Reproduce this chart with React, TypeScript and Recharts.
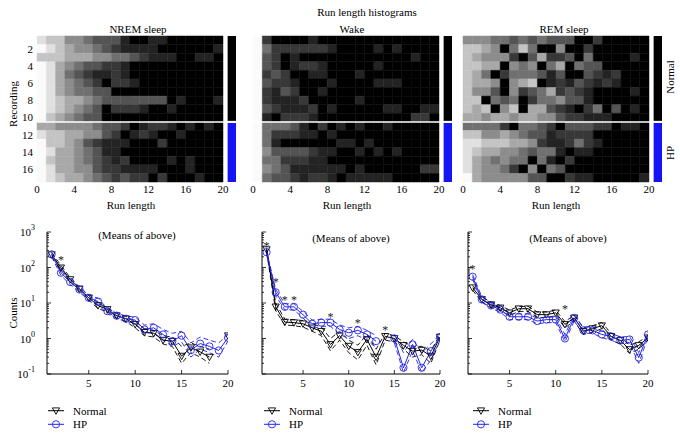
import React from 'react';
import {
  ScatterChart, Scatter, LineChart, Line, XAxis, YAxis,
  ReferenceArea, ReferenceLine, ReferenceDot,
} from 'recharts';

const FONT = '"Liberation Serif", "DejaVu Serif", serif';

// heatmap rows, one char per run length 1..20 (0 = black ... 9 = white)
const nremRows = [
  '87755433310011000000',
  '98765543211110000001',
  '77766655443211100110',
  '98654332210000000000',
  '98643211210000000000',
  '98654320221000000000',
  '98654433000000000000',
  '98766543333333010001',
  '98765430222100100000',
  '97654330000000000000',
  '66555543320122101010',
  '87766553201210010000',
  '97765321110002000000',
  '98665431100000000000',
  '97665432120000101000',
  '98665532211110001000',
  '98766543232202000100',
];

const wakeRows = [
  '92000010000000000000',
  '94222222100001010000',
  '93201000000000000100',
  '93201221000001000000',
  '92320011000100000000',
  '93221000100001110000',
  '92132001000000000000',
  '92111200000100000000',
  '93211120100000110011',
  '91022210000000000220',
  '94443102010100100000',
  '94222110100000000000',
  '94100000011010000000',
  '95333321100101010000',
  '94422211000000000000',
  '95431111110100000022',
  '94332122101111100000',
];

const remRows = [
  '55544343433300200000',
  '77650474005002000000',
  '76555203622304000010',
  '77660545046043300000',
  '76402444313003212000',
  '76650567012132121000',
  '75530523462321000010',
  '77043402445331000000',
  '76705706632102403010',
  '66566566553221110000',
  '44442044320333220110',
  '77556543312222000000',
  '88777665211242100000',
  '87665543441011000000',
  '86545440410200000000',
  '86554205043000000000',
  '96555553300211000001',
];

const greyLevels = ['#000000', '#232323', '#383838', '#545454', '#707070', '#8c8c8c', '#a8a8a8', '#c4c4c4', '#e0e0e0', '#fafafa'];

const recordingTicks = [2, 4, 6, 8, 10, 12, 14, 16];
const runTicks = [0, 4, 8, 12, 16, 20];
const normalRecordings = 10;

const runLengths = [1, 2, 3, 4, 5, 6, 7, 8, 9, 10, 11, 12, 13, 14, 15, 16, 17, 18, 19, 20];
const countTicksX = [5, 10, 15, 20];
const decades = [0.1, 1, 10, 100, 1000];
const minorSteps = [2, 3, 4, 5, 6, 7, 8, 9];

// NREM means
const nremNormal = [230, 98, 46, 25, 14, 8.5, 6.6, 4.4, 3.6, 2.5, 1.5, 1.4, 0.9, 0.84, 0.32, 0.55, 0.42, 0.3, null, 1.2];
const nremNormalHi = [260, 115, 52, 28, 16, 10, 7.5, 5, 4.2, 3, 1.9, 1.7, 1.2, 1.1, 0.6, 0.75, 0.6, 0.5, null, 1.4];
const nremNormalLo = [200, 85, 40, 22, 12, 7, 5.6, 3.8, 3, 2, 1.2, 1.1, 0.7, 0.6, 0.2, 0.4, 0.3, 0.2, null, 1];
const nremHp = [234, 71, 39, 24, 14, 11, 5.9, 4.4, 3.6, 3.3, 1.8, 2, 1.3, 0.84, 1.2, 0.47, 0.72, 0.6, 0.46, 1.05];
const nremHpHi = [270, 85, 45, 28, 17, 13.5, 7, 5.2, 4.3, 4, 2.4, 2.6, 1.8, 1.4, 1.6, 0.75, 1.1, 0.9, 0.75, 1.3];
const nremHpLo = [200, 60, 33, 20, 12, 9, 5, 3.7, 3, 2.7, 1.4, 1.5, 0.9, 0.6, 0.8, 0.3, 0.5, 0.4, 0.3, 0.85];
const nremStars = [{ x: 2, y: 170 }];

// Wake means
const wakeNormal = [320, 7.8, 2.9, 2.8, 2.6, 2, 1.6, 0.68, 1.2, 0.61, 0.41, 0.94, 0.3, 1.15, 1, 0.64, 0.44, 0.47, 0.32, 1.1];
const wakeNormalHi = [360, 10, 3.5, 3.4, 3.2, 2.6, 2.1, 1, 1.6, 0.9, 0.65, 1.3, 0.5, 1.4, 1.2, 0.8, 0.6, 0.6, 0.45, 1.3];
const wakeNormalLo = [280, 6, 2.4, 2.3, 2.1, 1.6, 1.2, 0.45, 0.9, 0.4, 0.25, 0.65, 0.18, 0.9, 0.8, 0.5, 0.3, 0.35, 0.2, 0.9];
const wakeHp = [270, 20, 7.8, 7.8, 4.7, 2.6, 2.8, 2.8, 1.8, 1.45, 1.7, 1.3, 0.84, null, 1, 0.15, 0.68, 0.15, 0.44, 1.1];
const wakeHpHi = [300, 24, 9.5, 9.5, 5.8, 3.3, 3.5, 3.5, 2.4, 2, 2.2, 1.7, 1.2, null, 1.3, 0.4, 0.95, 0.4, 0.7, 1.3];
const wakeHpLo = [240, 16, 6.4, 6.4, 3.8, 1.9, 2.2, 2.2, 1.3, 1, 1.2, 0.9, 0.55, null, 0.75, 0.11, 0.45, 0.11, 0.25, 0.9];
const wakeStars = [
  { x: 1, y: 420 }, { x: 2, y: 40 }, { x: 3, y: 12 }, { x: 4, y: 12 },
  { x: 8, y: 4.2 }, { x: 11, y: 2.8 }, { x: 14, y: 1.8 },
];

// REM means
const remNormal = [27, 12.6, 9, 7.3, 5.3, 6.9, 6.9, 4.7, 4.7, 5.3, 2.5, 3.8, 1.6, 1.9, 2.3, 1.15, 0.88, 0.49, 0.64, 1.05];
const remNormalHi = [31, 15, 10.5, 8.5, 6.3, 8, 8, 5.6, 5.6, 6.3, 3, 4.5, 2, 2.3, 2.8, 1.4, 1.1, 0.65, 0.8, 1.2];
const remNormalLo = [23, 10.5, 7.6, 6.2, 4.4, 5.8, 5.8, 3.9, 3.9, 4.4, 2, 3.1, 1.3, 1.5, 1.9, 0.9, 0.7, 0.38, 0.5, 0.9];
const remHp = [55, 12.6, 8.5, 6.5, 4.1, 4.1, 4.1, 3.1, 3.4, 3.4, 1, 3.8, 1.7, 1.7, 1.3, 1.15, 0.88, 0.94, 0.29, 1.3];
const remHpHi = [63, 15, 10, 7.6, 4.9, 4.9, 4.9, 3.7, 4, 4, 1.3, 4.5, 2.1, 2.1, 1.6, 1.4, 1.1, 1.15, 0.4, 1.5];
const remHpLo = [47, 10.5, 7.2, 5.5, 3.4, 3.4, 3.4, 2.6, 2.8, 2.8, 0.8, 3.1, 1.4, 1.4, 1.05, 0.9, 0.7, 0.75, 0.2, 1.1];
const remStars = [{ x: 1, y: 94 }, { x: 11, y: 6.7 }];

const BLUE = '#2323e6';
const logTicks = decades.flatMap((d) => (d < 1000 ? [d, ...minorSteps.map((m) => d * m)] : [d]));

function Txt({ x, y, children, rotate, size = 11 }: any) {
  return (
    <div style={{
      position: 'absolute', left: x, top: y, whiteSpace: 'nowrap', fontFamily: FONT, fontSize: size,
      color: '#000', lineHeight: 1, transform: `translate(-50%, -50%)${rotate ? ' rotate(-90deg)' : ''}`,
    }}>
      {children}
    </div>
  );
}

function Heatmap({ rows, left, width, marginLeft, marginRight, showY }: any) {
  const cells: { r: number; c: number; v: number }[] = [];
  rows.forEach((row: string, i: number) => {
    row.split('').forEach((ch, j) => cells.push({ r: i + 1, c: j + 1, v: Number(ch) }));
  });
  const tickStyle = { fontSize: 11, fill: '#000', fontFamily: FONT };
  return (
    <div style={{ position: 'absolute', left, top: 0 }}>
      <ScatterChart width={width} height={216} margin={{ top: 36, right: marginRight, bottom: 16, left: marginLeft }}>
        <XAxis type="number" dataKey="x" domain={[0, 21.4]} ticks={runTicks} interval={0} allowDataOverflow
          axisLine={false} tickLine={false} tickSize={0} tickMargin={3} height={18} tick={tickStyle} />
        <YAxis type="number" dataKey="y" domain={[0.5, 17.5]} reversed ticks={recordingTicks} interval={0} allowDataOverflow
          hide={!showY} width={20} axisLine={false} tickLine={false} tickSize={0} tickMargin={4} tick={tickStyle} />
        {cells.map((c) => (
          <ReferenceArea key={`${c.r}-${c.c}`} x1={c.c - 1} x2={c.c} y1={c.r - 0.5} y2={c.r + 0.5}
            fill={greyLevels[c.v]} fillOpacity={1} stroke={greyLevels[c.v]} strokeWidth={0.5} ifOverflow="visible" />
        ))}
        <ReferenceLine y={normalRecordings + 0.5} stroke="#fff" strokeWidth={1.5} ifOverflow="visible" />
        <ReferenceArea x1={20.5} x2={21.4} y1={0.5} y2={normalRecordings + 0.38} fill="#000" fillOpacity={1} stroke="none" ifOverflow="visible" />
        <ReferenceArea x1={20.5} x2={21.4} y1={normalRecordings + 0.62} y2={17.5} fill="#1414f5" fillOpacity={1} stroke="none" ifOverflow="visible" />
        <Scatter data={[]} isAnimationActive={false} />
      </ScatterChart>
    </div>
  );
}

const TriDot = (p: any) => {
  const { cx, cy, value, index } = p;
  if (value == null || cx == null || cy == null) return <g key={`t-${index}`} />;
  return (
    <path key={`t-${index}`} d={`M${cx - 3.6},${cy - 2.8} L${cx + 3.6},${cy - 2.8} L${cx},${cy + 3.6} Z`}
      fill="none" stroke="#000" strokeWidth={0.9} />
  );
};

const CircleDot = (p: any) => {
  const { cx, cy, value, index } = p;
  if (value == null || cx == null || cy == null) return <g key={`c-${index}`} />;
  return <circle key={`c-${index}`} cx={cx} cy={cy} r={3.6} fill="none" stroke={BLUE} strokeWidth={0.9} />;
};

function CountsChart({ left, width, marginLeft, marginRight, yWidth, showLabels, normal, normalHi, normalLo, hp, hpHi, hpLo, stars }: any) {
  const data = runLengths.map((x, i) => ({
    x, normal: normal[i], normalHi: normalHi[i], normalLo: normalLo[i], hp: hp[i], hpHi: hpHi[i], hpLo: hpLo[i],
  }));
  const YTick = (p: any) => {
    const v = p.payload.value;
    const major = decades.includes(v);
    const ax = p.x + 4;
    const exp = Math.round(Math.log10(v));
    return (
      <g>
        <line x1={ax} x2={ax + (major ? 4 : 2)} y1={p.y} y2={p.y} stroke="#000" strokeWidth={0.8} />
        {major && showLabels && (
          <text x={p.x - 8} y={p.y + 4} textAnchor="end" fontSize={11} fontFamily={FONT} fill="#000">
            10<tspan dy={-6} fontSize={8}>{exp}</tspan>
          </text>
        )}
      </g>
    );
  };
  const XTick = (p: any) => {
    const ay = p.y - 4;
    return (
      <g>
        <line x1={p.x} x2={p.x} y1={ay} y2={ay - 4} stroke="#000" strokeWidth={0.8} />
        <text x={p.x} y={p.y + 9} textAnchor="middle" fontSize={11} fontFamily={FONT} fill="#000">{p.payload.value}</text>
      </g>
    );
  };
  return (
    <div style={{ position: 'absolute', left, top: 215 }}>
      <LineChart width={width} height={175} data={data} margin={{ top: 17, right: marginRight, bottom: 0, left: marginLeft }}>
        <XAxis type="number" dataKey="x" domain={[0.5, 20]} ticks={countTicksX} interval={0} allowDataOverflow
          height={16} tickSize={0} tickMargin={4} tickLine={false} tick={XTick} axisLine={{ stroke: '#000', strokeWidth: 1 }} />
        <YAxis type="number" scale="log" domain={[0.1, 1000]} ticks={logTicks} interval={0} allowDataOverflow
          width={yWidth} tickSize={0} tickMargin={4} tickLine={false} tick={YTick} axisLine={{ stroke: '#000', strokeWidth: 1 }} />
        <Line dataKey="normalHi" stroke="#000" strokeWidth={0.9} strokeDasharray="5 3" dot={false} isAnimationActive={false} />
        <Line dataKey="normalLo" stroke="#000" strokeWidth={0.9} strokeDasharray="5 3" dot={false} isAnimationActive={false} />
        <Line dataKey="hpHi" stroke={BLUE} strokeWidth={0.9} strokeDasharray="5 3" dot={false} isAnimationActive={false} />
        <Line dataKey="hpLo" stroke={BLUE} strokeWidth={0.9} strokeDasharray="5 3" dot={false} isAnimationActive={false} />
        <Line dataKey="normal" stroke="#000" strokeWidth={1} dot={TriDot} isAnimationActive={false} />
        <Line dataKey="hp" stroke={BLUE} strokeWidth={1} dot={CircleDot} isAnimationActive={false} />
        {stars.map((s: any, i: number) => (
          <ReferenceDot key={i} x={s.x} y={s.y} r={0} fill="none" stroke="none" ifOverflow="visible"
            label={{ value: '*', position: 'center', fontSize: 12, fill: '#222', fontFamily: FONT }} />
        ))}
      </LineChart>
    </div>
  );
}

function SeriesKey({ left }: { left: number }) {
  return (
    <svg style={{ position: 'absolute', left, top: 403 }} width={80} height={30}>
      <line x1={0} x2={16} y1={7.7} y2={7.7} stroke="#000" strokeWidth={1} />
      <path d="M4.4,4.9 L11.6,4.9 L8,11.3 Z" fill="none" stroke="#000" strokeWidth={0.9} />
      <text x={25} y={11.5} fontSize={11} fontFamily={FONT} fill="#000">Normal</text>
      <line x1={0} x2={16} y1={21.3} y2={21.3} stroke={BLUE} strokeWidth={1} />
      <circle cx={8} cy={21.3} r={3.6} fill="none" stroke={BLUE} strokeWidth={0.9} />
      <text x={25} y={25} fontSize={11} fontFamily={FONT} fill="#000">HP</text>
    </svg>
  );
}

export default function App() {
  return (
    <div style={{ position: 'absolute', left: 0, top: 0, width: 680, height: 435, background: '#fff', overflow: 'hidden' }}>
      <Txt x={367} y={12}>Run length histograms</Txt>
      <Txt x={138} y={29}>NREM sleep</Txt>
      <Txt x={352} y={29}>Wake</Txt>
      <Txt x={564} y={29}>REM sleep</Txt>
      <Txt x={13} y={104} rotate>Recording</Txt>
      <Txt x={670} y={77} rotate>Normal</Txt>
      <Txt x={670} y={153} rotate>HP</Txt>

      <Heatmap rows={nremRows} left={0} width={250} marginLeft={17} marginRight={14} showY />
      <Heatmap rows={wakeRows} left={230} width={250} marginLeft={23} marginRight={28} />
      <Heatmap rows={remRows} left={455} width={225} marginLeft={8} marginRight={18} />

      <Txt x={131} y={205}>Run length</Txt>
      <Txt x={347} y={205}>Run length</Txt>
      <Txt x={556} y={205}>Run length</Txt>

      <Txt x={13} y={313} rotate>Counts</Txt>
      <CountsChart left={0} width={240} marginLeft={17} marginRight={12} yWidth={30} showLabels
        normal={nremNormal} normalHi={nremNormalHi} normalLo={nremNormalLo}
        hp={nremHp} hpHi={nremHpHi} hpLo={nremHpLo} stars={nremStars} />
      <CountsChart left={230} width={230} marginLeft={24} marginRight={20} yWidth={8} showLabels={false}
        normal={wakeNormal} normalHi={wakeNormalHi} normalLo={wakeNormalLo}
        hp={wakeHp} hpHi={wakeHpHi} hpLo={wakeHpLo} stars={wakeStars} />
      <CountsChart left={455} width={225} marginLeft={5} marginRight={32} yWidth={8} showLabels={false}
        normal={remNormal} normalHi={remNormalHi} normalLo={remNormalLo}
        hp={remHp} hpHi={remHpHi} hpLo={remHpLo} stars={remStars} />

      <Txt x={137} y={235}>(Means of above)</Txt>
      <Txt x={351} y={238}>(Means of above)</Txt>
      <Txt x={568} y={238}>(Means of above)</Txt>

      <SeriesKey left={48} />
      <SeriesKey left={264} />
      <SeriesKey left={473} />
    </div>
  );
}
